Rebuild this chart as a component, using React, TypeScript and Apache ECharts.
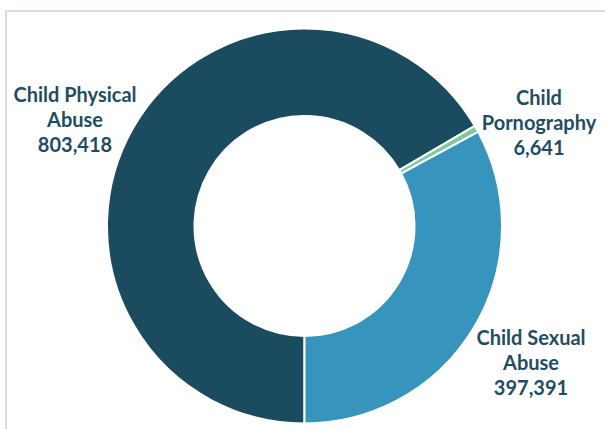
import React, { useEffect, useRef } from "react";
import * as echarts from "echarts";

const categories = ["Child Physical Abuse", "Child Pornography", "Child Sexual Abuse"];
const labelNames = ["Child Physical\nAbuse", "Child\nPornography", "Child Sexual\nAbuse"];
const values = [803418, 6641, 397391];
const colors = ["#1b4b5e", "#7fc8a0", "#3795bd"];
const labelPos = [
  [75, 119],
  [539, 122],
  [531, 362],
];

export default function App() {
  const ref = useRef<HTMLDivElement>(null);
  useEffect(() => {
    const chart = echarts.init(ref.current!, null, { renderer: "svg" });
    chart.setOption({
      animation: false,
      backgroundColor: "#ffffff",
      graphic: [
        {
          type: "rect",
          shape: { x: 6, y: 11, width: 700, height: 500 },
          style: { fill: "none", stroke: "#d3dee9", lineWidth: 2 },
          silent: true,
        },
      ],
      series: [
        {
          type: "pie",
          center: [304.5, 226],
          radius: [110, 197.5],
          startAngle: -90,
          clockwise: true,
          avoidLabelOverlap: false,
          itemStyle: { borderColor: "#ffffff", borderWidth: 2 },
          label: {
            show: true,
            position: "outside",
            color: "#1f4d61",
            fontFamily: "Lato",
            fontWeight: "bold",
            fontSize: 20,
            lineHeight: 25,
            align: "center",
            formatter: (p: any) =>
              labelNames[p.dataIndex] + "\n" + Number(p.value).toLocaleString("en-US"),
          },
          labelLine: { show: false },
          labelLayout: (p: any) => ({
            x: labelPos[p.dataIndex][0],
            y: labelPos[p.dataIndex][1],
            align: "center",
            verticalAlign: "middle",
          }),
          data: categories.map((c, i) => ({
            name: c,
            value: values[i],
            itemStyle: { color: colors[i] },
          })),
        },
      ],
    });
    return () => chart.dispose();
  }, []);
  return (
    <div
      ref={ref}
      style={{ position: "fixed", left: 0, top: 0, width: 605, height: 429 }}
    />
  );
}
